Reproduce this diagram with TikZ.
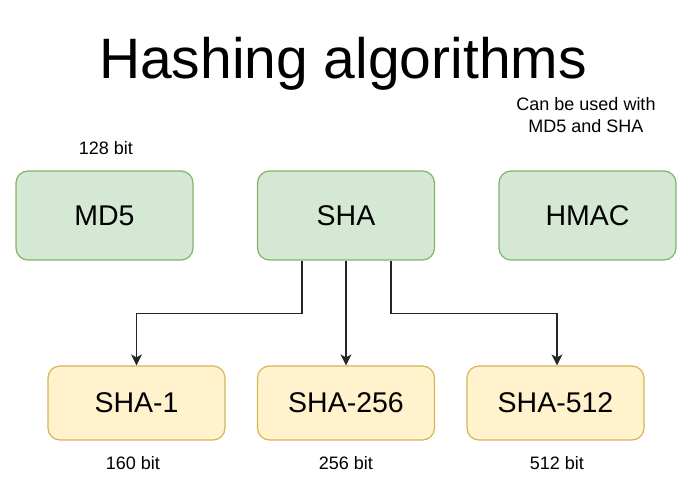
\documentclass[tikz,border=0pt]{standalone}
\usepackage{fontspec}
\setmainfont{Liberation Sans}
\usepackage{xcolor}
\usetikzlibrary{arrows.meta}

\definecolor{greenfill}{HTML}{D5E8D4}
\definecolor{greenline}{HTML}{82B366}
\definecolor{yellowfill}{HTML}{FFF2CC}
\definecolor{yellowline}{HTML}{D6B656}

\tikzset{
  algo/.style={draw=greenline,fill=greenfill,line width=1.2pt,rounded corners=12pt,
    minimum width=177pt,minimum height=89pt,inner sep=0pt,
    font=\fontsize{28.5}{34}\selectfont},
  variant/.style={draw=yellowline,fill=yellowfill,line width=1.2pt,rounded corners=12pt,
    minimum width=177pt,minimum height=74pt,inner sep=0pt,
    font=\fontsize{28.5}{34}\selectfont},
  note/.style={inner sep=0pt,align=center,font=\fontsize{18}{22}\selectfont},
  link/.style={black!85,line width=1.2pt,-{Stealth[length=11pt,width=11pt,inset=3pt]}}
}

\begin{document}
\begin{tikzpicture}[x=1pt,y=-1pt]
                    \useasboundingbox (0,0) rectangle (697,486);

                    \node[inner sep=0pt,anchor=base,font=\fontsize{57}{60}\selectfont] (title) at (343,79) {Hashing algorithms};

                    \node[algo] (md5) at (104.5,215.5) {MD5};
                    \node[algo] (sha) at (346,215.5) {SHA};
                    \node[algo] (hmac) at (587.5,215.5) {HMAC};

                    \node[variant] (sha1) at (136.5,403) {SHA-1};
                    \node[variant] (sha256) at (346,403) {SHA-256};
                    \node[variant] (sha512) at (555.5,403) {SHA-512};

                    \node[note,anchor=base] (md5bits) at (106,155) {128 bit};
                    \node[note,anchor=base] (hmacnote) at (586,133) {Can be used with\\MD5 and SHA};
                    \node[note,anchor=base] (sha1bits) at (133,470) {160 bit};
                    \node[note,anchor=base] (sha256bits) at (346,470) {256 bit};
                    \node[note,anchor=base] (sha512bits) at (557,470) {512 bit};

                    \draw[link] ([xshift=-44pt]sha.south) -- ++(0,53) -| (sha1.north);
                    \draw[link] (sha.south) -- (sha256.north);
                    \draw[link] ([xshift=45pt]sha.south) -- ++(0,53) -| ([xshift=1.5pt]sha512.north);
                \end{tikzpicture}
\end{document}
